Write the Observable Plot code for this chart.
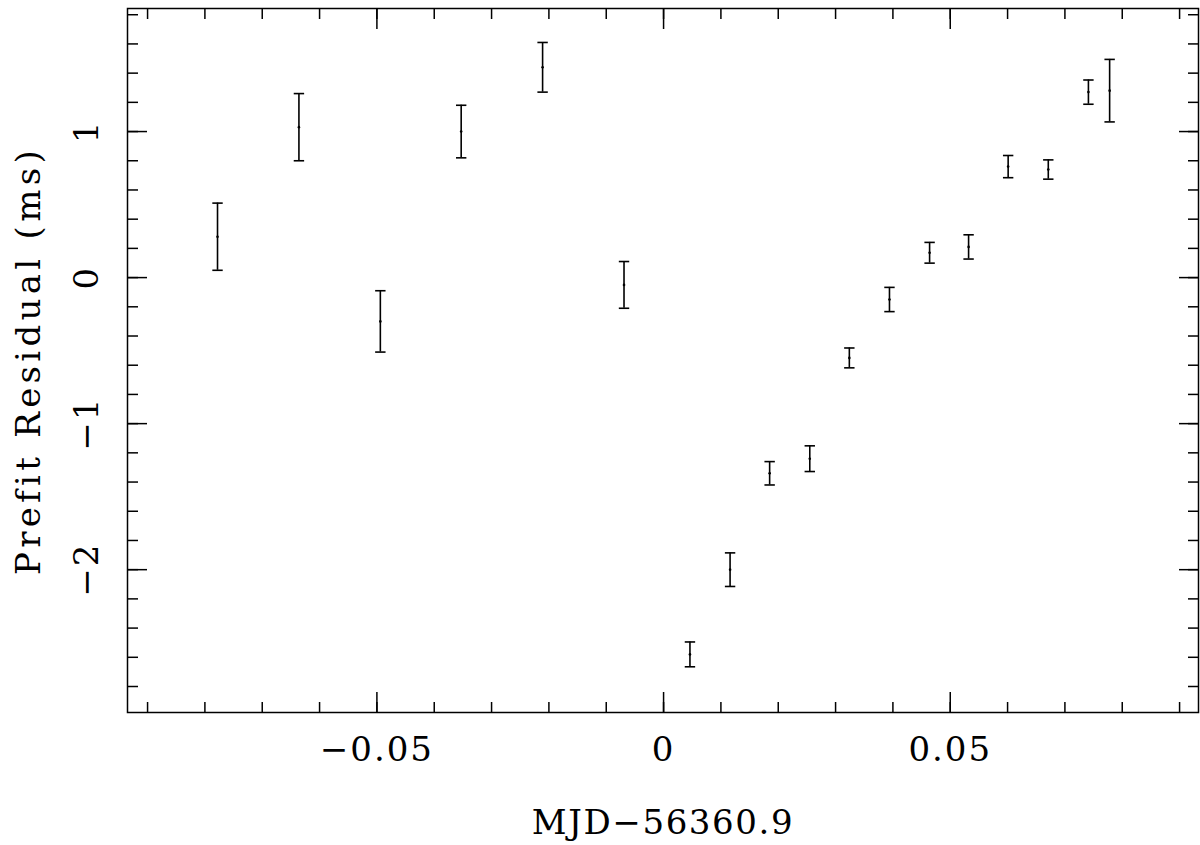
<!DOCTYPE html>
<html>
<head>
<meta charset="utf-8">
<script src="https://cdn.jsdelivr.net/npm/d3@7"></script>
<script src="https://cdn.jsdelivr.net/npm/@observablehq/plot@0.6"></script>
<style>
  html, body { margin: 0; padding: 0; background: #fff; }
  #chart svg { display: block; }
</style>
</head>
<body>
<div id="chart"></div>
<script>
// Time offsets (MJD - 56360.9, days)
const mjd = [-0.0778, -0.0636, -0.0494, -0.0353, -0.0211, -0.0069,
             0.0046, 0.0116, 0.0185, 0.0255, 0.0324, 0.0394,
             0.0464, 0.0532, 0.0601, 0.0671, 0.0741, 0.0778];
// Prefit residuals (ms)
const residual = [0.28, 1.03, -0.30, 1.00, 1.44, -0.05,
                  -2.58, -2.00, -1.34, -1.24, -0.55, -0.15,
                  0.17, 0.21, 0.76, 0.74, 1.27, 1.28];
// Uncertainties (ms)
const uncertainty = [0.23, 0.23, 0.21, 0.18, 0.17, 0.16,
                     0.085, 0.115, 0.08, 0.088, 0.068, 0.083,
                     0.071, 0.083, 0.076, 0.066, 0.083, 0.214];

const xMajor = [-0.05, 0, 0.05];
const xMajorLabels = ["\u22120.05", "0", "0.05"];
const xMinor = d3.range(-9, 10).map(i => i / 100);
const yMajor = [-2, -1, 0, 1];
const yMajorLabels = ["\u22122", "\u22121", "0", "1"];
const yMinor = d3.range(-14, 10).map(i => i / 5);

const xTitle = "MJD\u221256360.9";
const yTitle = "Prefit Residual (ms)";

const data = mjd.map((t, i) => ({
  t, r: residual[i], lo: residual[i] - uncertainty[i], hi: residual[i] + uncertainty[i]
}));
const xTickData = xMajor.map((v, i) => ({v, label: xMajorLabels[i]}));
const yTickData = yMajor.map((v, i) => ({v, label: yMajorLabels[i]}));

const capSymbol = {
  draw(context, size) {
    const w = 5.2;
    context.moveTo(-w, 0);
    context.lineTo(w, 0);
  }
};

const font = "'DejaVu Serif', serif";
const noText = () => "";
const textStyle = {fontSize: 34, fill: "#000", fontFamily: font};

const chart = Plot.plot({
  width: 1200,
  height: 845,
  marginLeft: 127,
  marginRight: 2,
  marginTop: 8,
  marginBottom: 133,
  style: {background: "#fff", color: "#000", fontFamily: font},
  x: {domain: [-0.0935, 0.0933], axis: null},
  y: {domain: [-2.978, 1.8426], axis: null},
  marks: [
    Plot.frame({stroke: "#000", strokeWidth: 1.5}),
    // inward ticks on all four sides
    Plot.axisX(xMinor, {anchor: "bottom", tickSize: -10, tickFormat: noText, label: null, strokeWidth: 1.5}),
    Plot.axisX(xMinor, {anchor: "top", tickSize: -10, tickFormat: noText, label: null, strokeWidth: 1.5}),
    Plot.axisX(xMajor, {anchor: "bottom", tickSize: -20, tickFormat: noText, label: null, strokeWidth: 1.5}),
    Plot.axisX(xMajor, {anchor: "top", tickSize: -20, tickFormat: noText, label: null, strokeWidth: 1.5}),
    Plot.axisY(yMinor, {anchor: "left", tickSize: -11, tickFormat: noText, label: null, strokeWidth: 1.5}),
    Plot.axisY(yMinor, {anchor: "right", tickSize: -11, tickFormat: noText, label: null, strokeWidth: 1.5}),
    Plot.axisY(yMajor, {anchor: "left", tickSize: -20, tickFormat: noText, label: null, strokeWidth: 1.5}),
    Plot.axisY(yMajor, {anchor: "right", tickSize: -20, tickFormat: noText, label: null, strokeWidth: 1.5}),
    // tick labels
    Plot.text(xTickData, {x: "v", text: "label", frameAnchor: "bottom", dy: 37.5, lineAnchor: "middle",
      textAnchor: "middle", ...textStyle, className: "ticklab"}),
    Plot.text(yTickData, {y: "v", text: "label", frameAnchor: "left", dx: -40.5, rotate: -90,
      lineAnchor: "middle", textAnchor: "middle", ...textStyle, className: "ticklab"}),
    // axis titles
    Plot.text([xTitle], {text: d => d, frameAnchor: "bottom", dy: 111, lineAnchor: "middle",
      textAnchor: "middle", ...textStyle, className: "xtitle"}),
    Plot.text([yTitle], {text: d => d, frameAnchor: "left", dx: -98.5, rotate: -90,
      lineAnchor: "middle", textAnchor: "middle", ...textStyle, className: "ytitle"}),
    // error bars
    Plot.ruleX(data, {x: "t", y1: "lo", y2: "hi", stroke: "#000", strokeWidth: 1.6}),
    Plot.dot(data, {x: "t", y: "lo", symbol: capSymbol, stroke: "#000", strokeWidth: 1.6, fill: "none"}),
    Plot.dot(data, {x: "t", y: "hi", symbol: capSymbol, stroke: "#000", strokeWidth: 1.6, fill: "none"}),
    Plot.dot(data, {x: "t", y: "r", r: 1.3, fill: "#000", stroke: "none"})
  ]
});

// Hershey-like wide spacing for text
const s = d3.select(chart);
s.selectAll(".ticklab text").style("letter-spacing", "2px");
s.selectAll(".xtitle text").style("letter-spacing", "1.6px");
s.selectAll(".ytitle text").style("letter-spacing", "4.3px");
document.getElementById("chart").appendChild(chart);
</script>
</body>
</html>
